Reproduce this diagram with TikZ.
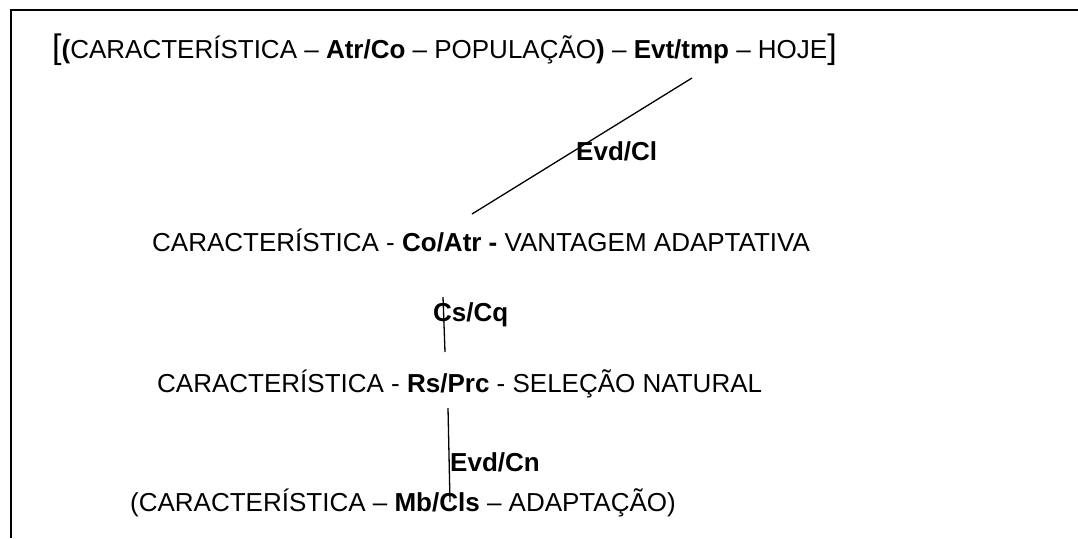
\documentclass[tikz,border=0pt]{standalone}
\usepackage{fontspec}
\setmainfont{Liberation Sans}
\begin{document}
\begin{tikzpicture}[x=1pt,y=-1pt,
  txt/.style={inner sep=0pt,anchor=base west,font=\fontsize{26}{30}\selectfont},
  lbl/.style={txt,font=\fontsize{26}{30}\selectfont\bfseries},
  link/.style={line width=1.3pt},
  frame/.style={line width=2.5pt}]
\useasboundingbox (0,0) rectangle (1078,538);
\fill[white] (0,0) rectangle (1078,538);
% open frame: top and left edges
\coordinate (fbl) at (11,538);
\coordinate (ftl) at (11,10);
\coordinate (ftr) at (1078,10);
\draw[frame] (fbl) -- (ftl) -- (ftr);

% statements
\node[txt] (hoje) at (52,58) {{\fontsize{34}{34}\selectfont[}\textbf{(}CARACTERÍSTICA – \textbf{Atr/Co} – POPULAÇÃO\textbf{)} – \textbf{Evt/tmp} – HOJE{\fontsize{34}{34}\selectfont]}};
\node[txt] (vant) at (152,251) {CARACTERÍSTICA - \textbf{Co/Atr -} VANTAGEM ADAPTATIVA};
\node[txt] (sel) at (157,392) {CARACTERÍSTICA - \textbf{Rs/Prc} - SELEÇÃO NATURAL};
\node[txt] (adap) at (130,511) {(CARACTERÍSTICA – \textbf{Mb/Cls} – ADAPTAÇÃO)};

% relation labels
\node[lbl] (evdcl) at (576,160) {Evd/Cl};
\node[lbl] (cscq) at (433,321) {Cs/Cq};
\node[lbl] (evdcn) at (450,471) {Evd/Cn};

% connector end points
\coordinate (a1) at (692,78);
\coordinate (a2) at (472,214);
\coordinate (b1) at (443,297);
\coordinate (b2) at (445,352);
\coordinate (c1) at (448,408);
\coordinate (c2) at (450,502);

\draw[link] (a1) -- (a2);
\draw[link] (b1) -- (b2);
\draw[link] (c1) -- (c2);
\end{tikzpicture}
\end{document}
